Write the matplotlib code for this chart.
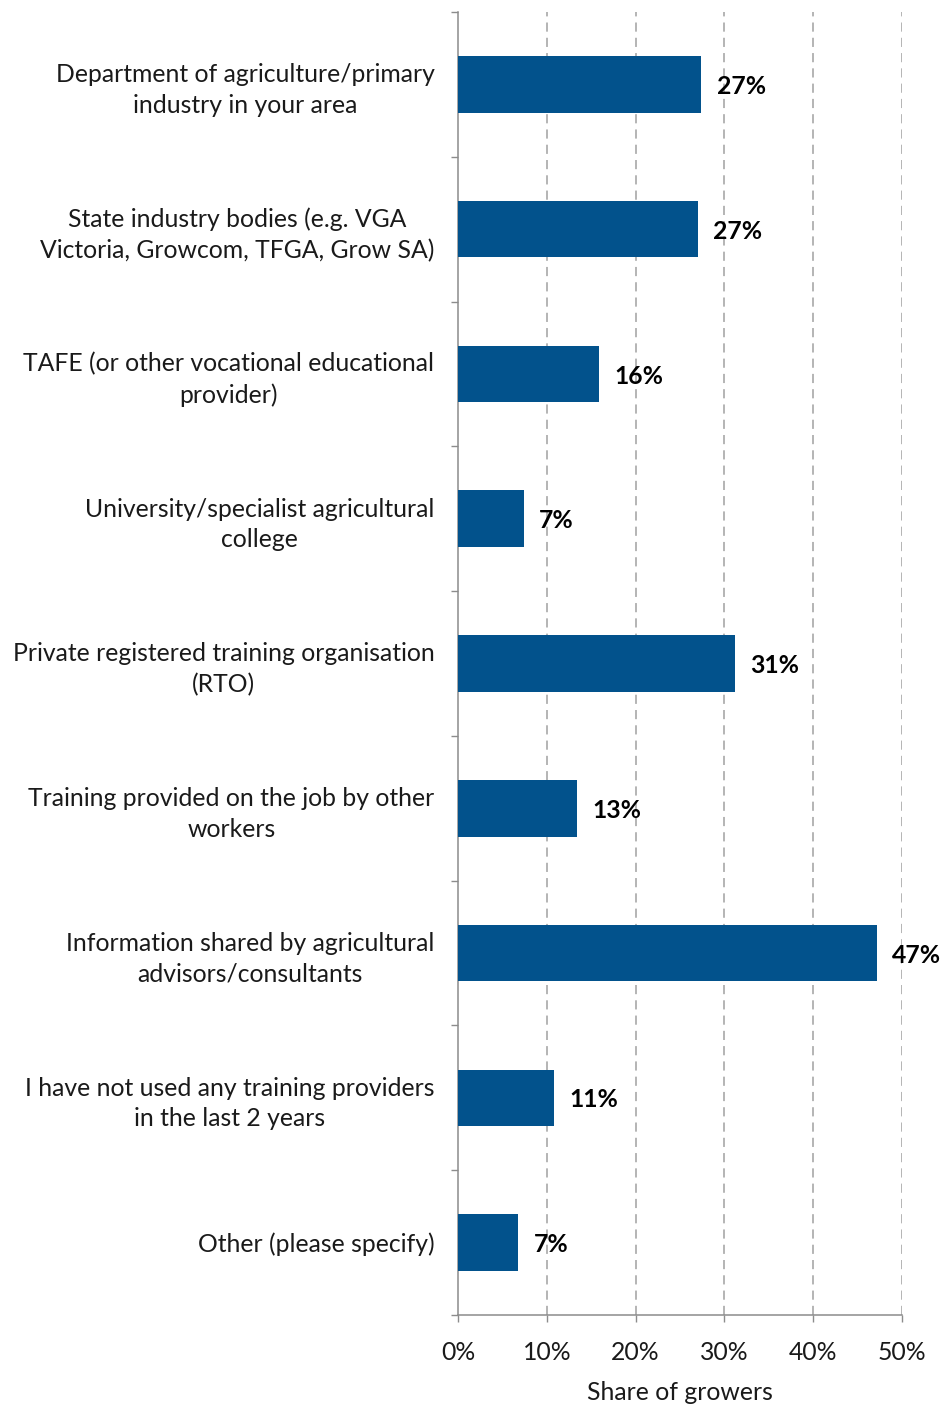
import matplotlib
matplotlib.use("Agg")
import matplotlib.pyplot as plt
from matplotlib.ticker import FixedLocator, PercentFormatter

plt.rcParams['font.family'] = ['Lato', 'DejaVu Sans']

categories = [
    "Department of agriculture/primary\nindustry in your area",
    "State industry bodies (e.g. VGA\nVictoria, Growcom, TFGA, Grow SA)",
    "TAFE (or other vocational educational\nprovider)",
    "University/specialist agricultural\ncollege",
    "Private registered training organisation\n(RTO)",
    "Training provided on the job by other\nworkers",
    "Information shared by agricultural\nadvisors/consultants",
    "I have not used any training providers\nin the last 2 years",
    "Other (please specify)",
]
shares = [27.4, 27.0, 15.9, 7.4, 31.2, 13.4, 47.2, 10.8, 6.8]
x_ticks = [0, 10, 20, 30, 40, 50]
x_title = "Share of growers"

bar_color = "#02528C"
axis_gray = "#8C8C8C"
text_color = "#1A1A1A"
fs = 17.8

fig = plt.figure(figsize=(9.43, 14.05), dpi=100)
ax = fig.add_axes([458 / 943, 1 - 1315 / 1405, 444 / 943, 1303 / 1405])

positions = list(range(len(categories)))
ax.barh(positions, shares, height=0.39, color=bar_color, zorder=3)

ax.set_xlim(0, 50)
ax.set_ylim(len(categories) - 0.5, -0.5)

# dashed vertical gridlines
ax.xaxis.set_major_locator(FixedLocator(x_ticks))
ax.xaxis.set_major_formatter(PercentFormatter(decimals=0))
for t in x_ticks[1:]:
    ax.axvline(t, color="#A0A0A0", lw=1.1, ls=(0, (6, 4)), zorder=1)

# category labels at bar centres, ticks at category boundaries
ax.set_yticks(positions)
ax.set_yticklabels(categories)
ax.tick_params(axis='y', which='major', length=0, pad=17, labelsize=fs,
               labelcolor=text_color)
for lbl in ax.get_yticklabels():
    lbl.set_multialignment('center')
    lbl.set_linespacing(1.4)
ax.yaxis.set_minor_locator(FixedLocator([p - 0.5 for p in positions] + [len(categories) - 0.5]))
ax.tick_params(axis='y', which='minor', length=5, width=1, color=axis_gray, direction='out')

ax.tick_params(axis='x', which='major', length=5, width=1, color=axis_gray,
               direction='out', pad=14, labelsize=fs, labelcolor=text_color)
ax.set_xlabel(x_title, fontsize=fs, color=text_color, labelpad=12)

for side in ('top', 'right'):
    ax.spines[side].set_visible(False)
for side in ('left', 'bottom'):
    ax.spines[side].set_color(axis_gray)
    ax.spines[side].set_linewidth(1.1)

for p, v in zip(positions, shares):
    ax.annotate(f"{v:.0f}%", xy=(v, p), xytext=(11, -1.5), textcoords='offset points',
                ha='left', va='center', fontsize=fs, fontweight='bold',
                color='black', zorder=4)

fig.savefig("out.png", dpi=100)
